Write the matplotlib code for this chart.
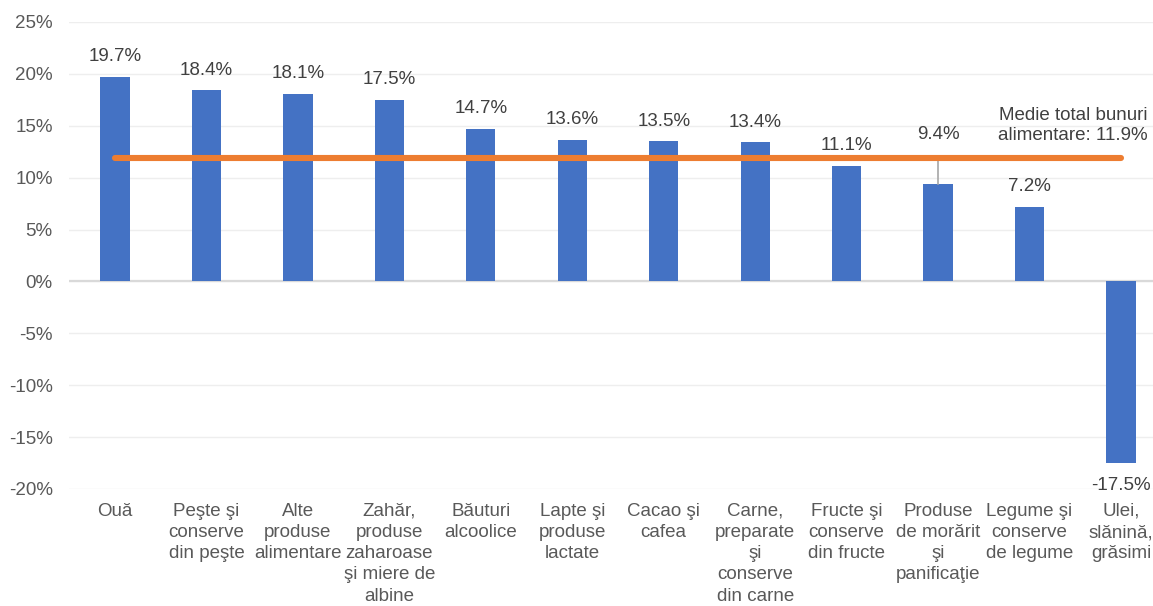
import matplotlib
matplotlib.use("Agg")
import matplotlib.pyplot as plt

categories = [
    "Ouă",
    "Peşte şi\nconserve\ndin peşte",
    "Alte\nproduse\nalimentare",
    "Zahăr,\nproduse\nzaharoase\nşi miere de\nalbine",
    "Băuturi\nalcoolice",
    "Lapte şi\nproduse\nlactate",
    "Cacao şi\ncafea",
    "Carne,\npreparate\nşi\nconserve\ndin carne",
    "Fructe şi\nconserve\ndin fructe",
    "Produse\nde morărit\nşi\npanificaţie",
    "Legume şi\nconserve\nde legume",
    "Ulei,\nslănină,\ngrăsimi",
]
values = [19.7, 18.4, 18.1, 17.5, 14.7, 13.6, 13.5, 13.4, 11.1, 9.4, 7.2, -17.5]
average = 11.9
average_label = "Medie total bunuri\nalimentare: 11.9%"
y_ticks = [-20, -15, -10, -5, 0, 5, 10, 15, 20, 25]

plt.rcParams["font.family"] = ["Liberation Sans", "DejaVu Sans"]

BAR_COLOR = "#4472C4"
LINE_COLOR = "#ED7D31"
TEXT_DARK = "#404040"
TEXT_TICK = "#595959"

fig = plt.figure(figsize=(11.53, 6.06), dpi=100)
ax = fig.add_axes([0.0601, 0.1931, 0.9518, 0.7706])

x = list(range(len(categories)))
ax.bar(x, values, width=0.32, color=BAR_COLOR, zorder=3)

# average line across all categories
ax.plot([x[0], x[-1]], [average, average], color=LINE_COLOR, lw=4.4,
        solid_capstyle="round", zorder=5)

ax.set_xlim(-0.5, len(categories) - 0.5)
ax.set_ylim(-20, 25)
ax.set_yticks(y_ticks)
ax.set_yticklabels([f"{t}%" for t in y_ticks])
ax.set_xticks(x)
ax.set_xticklabels(categories, linespacing=1.32, va="top")

ax.grid(axis="y", color="#EEEEEE", lw=1, zorder=0)
ax.axhline(0, color="#D9D9D9", lw=1.6, zorder=2)
for s in ax.spines.values():
    s.set_visible(False)
ax.tick_params(axis="both", length=0, labelsize=13.5, colors=TEXT_TICK)
ax.tick_params(axis="y", pad=12)
ax.tick_params(axis="x", pad=10)

# value labels
for xi, v in zip(x, values):
    label = f"{v:.1f}%"
    if v < 0:
        ax.annotate(label, (xi, v), xytext=(0, -10), textcoords="offset points",
                    ha="center", va="top", fontsize=13.5, color=TEXT_DARK, zorder=6)
    elif 1.5 < average - v < 3.5:
        # label lifted above the average line with a leader down to the bar
        ly = average + 2.3
        ax.plot([xi, xi], [v, average], color="#A6A6A6", lw=1.2, zorder=4)
        ax.text(xi, ly, label, ha="center", va="center", fontsize=13.5,
                color=TEXT_DARK, zorder=6)
    else:
        ax.annotate(label, (xi, v), xytext=(0, 8.5), textcoords="offset points",
                    ha="center", va="bottom", fontsize=13.5, color=TEXT_DARK, zorder=6)

ax.text(x[-1] + 0.295, average + 1.35, average_label, ha="right", va="bottom",
        fontsize=13.5, color=TEXT_DARK, linespacing=1.25, zorder=6)

fig.savefig("out.png", dpi=100)
